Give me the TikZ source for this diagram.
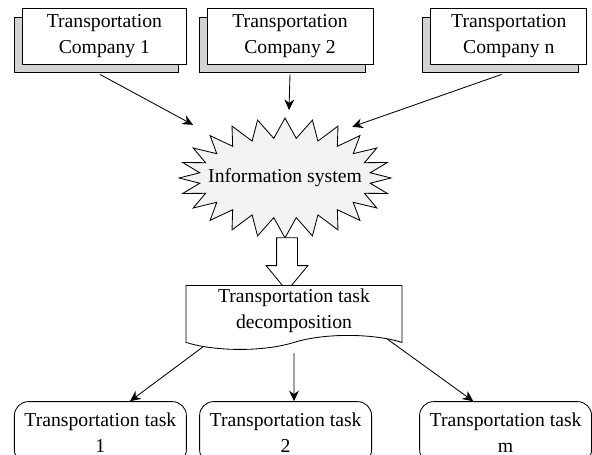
\documentclass[tikz,border=0pt]{standalone}
\usepackage{fontspec}
\setmainfont{Liberation Serif}
\usetikzlibrary{arrows.meta,calc,shadows,shapes.symbols,shapes.arrows}

\begin{document}
\begin{tikzpicture}[
    every node/.style={align=center, font=\fontsize{14}{18.5}\selectfont},
    company/.style={draw, fill=white, line width=.6pt, minimum width=4.08cm, minimum height=1.38cm, inner sep=0pt,
      general shadow={shadow xshift=-.2cm, shadow yshift=-.22cm, fill=shade, draw=black, line width=.6pt}},
    infosys/.style={starburst, draw, fill=cloud, line width=.6pt, starburst points=24, starburst point height=.5cm,
      random starburst=0, inner xsep=-.4cm, inner ysep=.48cm},
    bigarrow/.style={single arrow, draw, fill=white, line width=.6pt, shape border rotate=270, minimum height=1.33cm,
      minimum width=1.03cm, single arrow head extend=.26cm, single arrow tip angle=79, inner sep=.25cm},
    doc/.style={tape, draw, fill=white, line width=.6pt, tape bend top=none, tape bend bottom=in and out,
      tape bend height=.35cm, minimum width=5.4cm, minimum height=1.6cm, inner sep=0pt, anchor=north},
    task/.style={draw, rounded corners=.35cm, line width=.6pt, minimum width=4.3cm, minimum height=1.55cm,
      inner sep=0pt, anchor=north},
    flow/.style={line width=.6pt, -{Stealth[length=7.5pt, width=7pt]}}
  ]
  \definecolor{shade}{HTML}{D3D3D3}
  \definecolor{cloud}{HTML}{F2F2F2}
  \path[use as bounding box, clip] (0,0) rectangle (14.8,-11.375);

  % companies feeding the information system
  \node[company] (c1) at (2.61,-.91) {Transportation\\Company 1};
  \node[company, minimum width=4.15cm] (c2) at (7.25,-.91) {Transportation\\Company 2};
  \node[company, minimum width=3.9cm] (cn) at (12.72,-.91) {Transportation\\Company n};

  \node[infosys] (info) at (7.125,-4.45) {Information system};

  \draw[flow] ($(c1.south)+(-.11,-.25)$) -- ($(info)+(-2.3,1.33)$);
  \draw[flow] ($(c2.south)+(0,-.25)$) -- ($(info)+(.1,1.7)$);
  \draw[flow] ($(cn.south)+(-.18,-.25)$) -- ($(info)+(1.68,1.28)$);

  % decomposition step
  \node[bigarrow] (down) at (7.175,-6.45) {};
  \node[doc] (dec) at (7.35,-7.125) {Transportation task\\decomposition};

  \node[task] (t1) at (2.51,-10.03) {Transportation task\\1};
  \node[task] (t2) at (7.14,-10.03) {Transportation task\\2};
  \node[task] (tm) at (12.64,-10.03) {Transportation task\\m};

  \draw[flow] ($(dec.north)+(-2.28,-1.55)$) -- ($(t1.north)+(.74,0)$);
  \draw[flow] ($(dec.north)+(0,-1.7)$) -- ($(t2.north)+(.21,0)$);
  \draw[flow] ($(dec.north)+(2.33,-1.35)$) -- ($(tm.north)+(-.81,0)$);
\end{tikzpicture}
\end{document}
